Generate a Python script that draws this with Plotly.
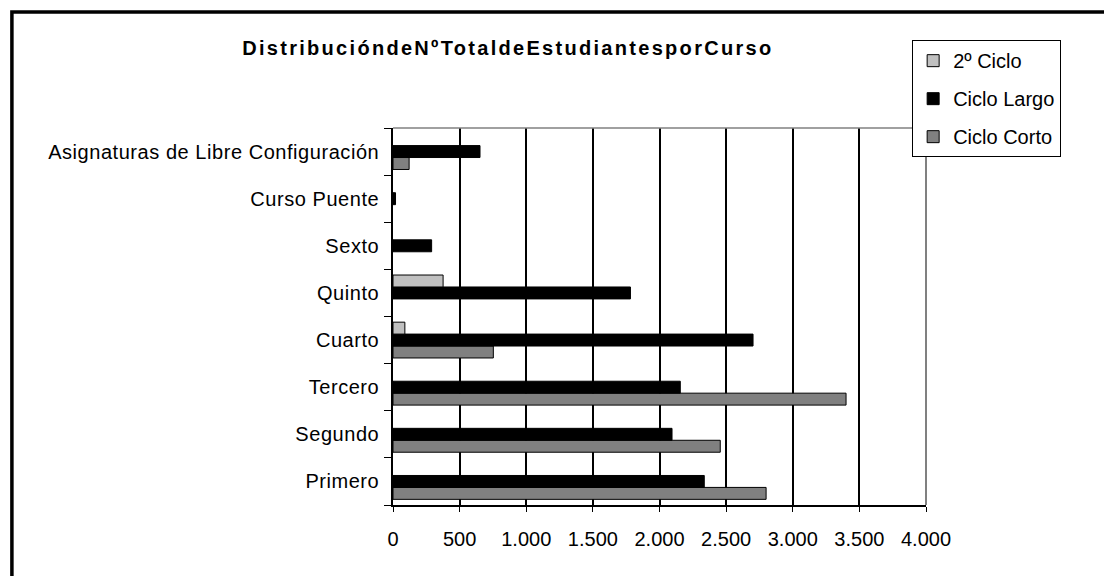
import plotly.graph_objects as go

cursos = ['Primero', 'Segundo', 'Tercero', 'Cuarto', 'Quinto', 'Sexto',
          'Curso Puente', 'Asignaturas de Libre Configuración']

# None where the original shows no bar at all
ciclo_corto = [2800, 2456, 3400, 753, None, None, None, 121]
ciclo_largo = [2336, 2094, 2156, 2702, 1782, 290, 19, 653]
segundo_ciclo = [None, None, None, 89, 376, None, None, None]

x_ticks = [0, 500, 1000, 1500, 2000, 2500, 3000, 3500, 4000]

fig = go.Figure()

# plotly stacks horizontal groups bottom-up, so the last trace ends up on top
series = [
    ('Ciclo Corto', ciclo_corto, '#808080', 3),
    ('Ciclo Largo', ciclo_largo, '#000000', 2),
    ('2º Ciclo', segundo_ciclo, '#C0C0C0', 1),
]
for name, vals, color, rank in series:
    fig.add_trace(go.Bar(
        y=cursos, x=vals, name=name, orientation='h',
        legendgroup=name, legendrank=rank,
        marker=dict(color=color, line=dict(color='#000000', width=1)),
    ))

fig.update_layout(
    width=1104, height=576,
    margin=dict(l=393, r=178, t=128, b=71),
    paper_bgcolor='white', plot_bgcolor='white',
    font=dict(family='Liberation Sans, Arial, sans-serif', size=20, color='black'),
    separators=',.',
    barmode='group', bargap=0.24, bargroupgap=0,
    title=dict(text='<b>DistribucióndeNºTotaldeEstudiantesporCurso</b>',
               x=0.46, xanchor='center', y=0.917, yanchor='middle',
               font=dict(size=20)),
    legend=dict(x=0.974, xanchor='left', y=1.233, yanchor='top',
                traceorder='grouped', tracegroupgap=9, itemwidth=30,
                bgcolor='white', bordercolor='black', borderwidth=1,
                font=dict(size=20), itemclick=False),
    showlegend=True,
)

fig.update_xaxes(range=[0, 4000], tickvals=x_ticks, tickformat=',d',
                 showgrid=True, gridcolor='black', gridwidth=1.5,
                 showline=True, linecolor='black', linewidth=1.5,
                 ticks='outside', ticklen=5, tickcolor='black',
                 ticklabelstandoff=10, zeroline=False, fixedrange=True)
fig.update_yaxes(type='category', categoryorder='array', categoryarray=cursos,
                 showgrid=False, showline=True, linecolor='black', linewidth=1.5,
                 ticks='outside', ticklen=7, tickcolor='black', tickson='boundaries',
                 ticklabelstandoff=8, fixedrange=True)

# grey frame on top and right of the plot area, outer black border of the chart
fig.add_shape(type='line', xref='paper', yref='paper', x0=0, x1=1, y0=1, y1=1,
              line=dict(color='#808080', width=1.5))
fig.add_shape(type='line', xref='paper', yref='paper', x0=1, x1=1, y0=0, y1=1,
              line=dict(color='#808080', width=2))
fig.add_shape(type='rect', xref='paper', yref='paper',
              x0=-0.715, x1=1.5, y0=-0.3, y1=1.308,
              line=dict(color='black', width=3.5), layer='above')

# no page margin, and the wide letter spacing of the original texts
post = """
document.body.style.margin = '0';
document.querySelectorAll('.gtitle').forEach(function (t) { t.style.letterSpacing = '2.3px'; });
document.querySelectorAll('.ytick text').forEach(function (t) { t.style.letterSpacing = '0.55px'; });
"""

fig.write_html('out.html', post_script=post, config={'displayModeBar': False})
